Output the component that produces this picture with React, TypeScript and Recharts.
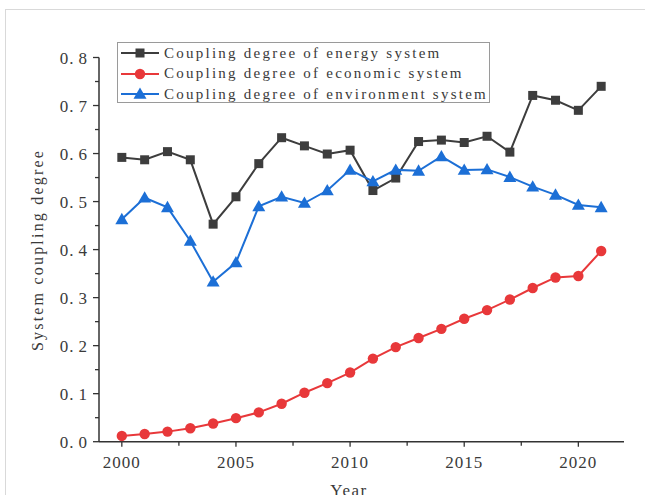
import { LineChart, Line, XAxis, YAxis } from "recharts";

const years = [
  2000, 2001, 2002, 2003, 2004, 2005, 2006, 2007, 2008, 2009, 2010, 2011,
  2012, 2013, 2014, 2015, 2016, 2017, 2018, 2019, 2020, 2021,
];
const energy = [
  0.592, 0.587, 0.604, 0.587, 0.453, 0.51, 0.579, 0.633, 0.616, 0.599, 0.607,
  0.523, 0.549, 0.625, 0.628, 0.623, 0.636, 0.603, 0.721, 0.711, 0.69, 0.74,
];
const economic = [
  0.012, 0.016, 0.021, 0.028, 0.038, 0.049, 0.061, 0.079, 0.102, 0.122, 0.144,
  0.173, 0.197, 0.216, 0.235, 0.256, 0.274, 0.296, 0.32, 0.342, 0.345, 0.397,
];
const environment = [
  0.463, 0.508, 0.488, 0.418, 0.333, 0.373, 0.49, 0.51, 0.497, 0.523, 0.566,
  0.542, 0.566, 0.564, 0.594, 0.566, 0.567, 0.551, 0.531, 0.514, 0.493, 0.488,
];
const yTicks = [
  0, 0.05, 0.1, 0.15, 0.2, 0.25, 0.3, 0.35, 0.4, 0.45, 0.5, 0.55, 0.6, 0.65,
  0.7, 0.75, 0.8,
];
const xTicks = [2000, 2002.5, 2005, 2007.5, 2010, 2012.5, 2015, 2017.5, 2020];
const seriesNames = [
  "Coupling degree of energy system",
  "Coupling degree of economic system",
  "Coupling degree of environment system",
];

const data = years.map((year, i) => ({
  year,
  energy: energy[i],
  economic: economic[i],
  environment: environment[i],
}));

const FONT = "'Liberation Serif', 'DejaVu Serif', serif";
const TEXT = "#3a3a3a";
const AXIS = "#333333";
const GRAY = "#3d3d3d";
const RED = "#e8383a";
const BLUE = "#1c6fd6";

type Shape = "square" | "circle" | "triangle";

function Marker({ cx, cy, shape, color }: { cx: number; cy: number; shape: Shape; color: string }) {
  if (shape === "square")
    return <rect x={cx - 4.5} y={cy - 4.5} width={9} height={9} fill={color} />;
  if (shape === "circle") return <circle cx={cx} cy={cy} r={5.2} fill={color} />;
  return (
    <polygon
      points={`${cx},${cy - 6.5} ${cx - 6.5},${cy + 4.8} ${cx + 6.5},${cy + 4.8}`}
      fill={color}
    />
  );
}

const makeDot = (shape: Shape, color: string) => (props: any) => {
  const { cx, cy, index } = props;
  if (cx == null || cy == null) return <g key={`${shape}-${index}`} />;
  return (
    <g key={`${shape}-${index}`}>
      <Marker cx={cx} cy={cy} shape={shape} color={color} />
    </g>
  );
};

// decimal labels are set with a wide gap after the point, as in the CJK-style font
function YTick(props: any) {
  const { x, y, payload } = props;
  const v = payload.value as number;
  const major = Math.round(v * 100) % 10 === 0;
  const [intPart, fracPart] = v.toFixed(1).split(".");
  return (
    <g>
      <line x1={x - (major ? 6 : 4)} x2={x} y1={y} y2={y} stroke={AXIS} strokeWidth={1.3} />
      {major && (
        <text
          x={x - 11}
          y={y}
          textAnchor="end"
          dominantBaseline="central"
          fontFamily={FONT}
          fontSize={17}
          letterSpacing={1}
          fill={TEXT}
        >
          <tspan>{intPart}.</tspan>
          <tspan dx={4}>{fracPart}</tspan>
        </text>
      )}
    </g>
  );
}

function XTick(props: any) {
  const { x, y, payload } = props;
  const v = payload.value as number;
  const major = v % 5 === 0;
  return (
    <g>
      <line x1={x} x2={x} y1={y} y2={y + (major ? 5 : 4)} stroke={AXIS} strokeWidth={1.3} />
      {major && (
        <text
          x={x}
          y={y + 21}
          textAnchor="middle"
          dominantBaseline="central"
          fontFamily={FONT}
          fontSize={17}
          letterSpacing={1}
          fill={TEXT}
        >
          {v}
        </text>
      )}
    </g>
  );
}

const legendItems: { name: string; shape: Shape; color: string }[] = [
  { name: seriesNames[0], shape: "square", color: GRAY },
  { name: seriesNames[1], shape: "circle", color: RED },
  { name: seriesNames[2], shape: "triangle", color: BLUE },
];

export default function App() {
  return (
    <div
      style={{
        position: "absolute",
        left: 0,
        top: 0,
        width: 645,
        height: 495,
        background: "#fff",
        overflow: "hidden",
      }}
    >
      <div
        style={{
          position: "absolute",
          left: 5,
          top: 9,
          width: 660,
          height: 500,
          borderTop: "1px solid #d9d9d9",
          borderLeft: "1px solid #d9d9d9",
        }}
      />
      <LineChart
        width={645}
        height={495}
        data={data}
        margin={{ top: 57.5, right: 21, bottom: 0, left: 0 }}
      >
        <XAxis
          dataKey="year"
          type="number"
          domain={[1999, 2022]}
          ticks={xTicks}
          interval={0}
          height={53.3}
          tickSize={0}
          tickMargin={0}
          tick={<XTick />}
          axisLine={{ stroke: AXIS, strokeWidth: 1.5 }}
          tickLine={false}
          label={{
            content: () => (
              <text
                x={349}
                y={490}
                textAnchor="middle"
                dominantBaseline="central"
                fontFamily={FONT}
                fontSize={17}
                letterSpacing={1.5}
                fill={TEXT}
              >
                Year
              </text>
            ),
          }}
        />
        <YAxis
          type="number"
          domain={[0, 0.8]}
          ticks={yTicks}
          interval={0}
          width={99}
          tickSize={0}
          tickMargin={0}
          tick={<YTick />}
          axisLine={{ stroke: AXIS, strokeWidth: 1.5 }}
          tickLine={false}
          label={{
            content: () => (
              <text
                x={37}
                y={250}
                transform="rotate(-90 37 250)"
                textAnchor="middle"
                dominantBaseline="central"
                fontFamily={FONT}
                fontSize={16}
                letterSpacing={2.2}
                fill={TEXT}
              >
                System coupling degree
              </text>
            ),
          }}
        />
        <Line
          dataKey="energy"
          name={seriesNames[0]}
          stroke={GRAY}
          strokeWidth={2}
          dot={makeDot("square", GRAY)}
          activeDot={false}
          isAnimationActive={false}
        />
        <Line
          dataKey="economic"
          name={seriesNames[1]}
          stroke={RED}
          strokeWidth={2}
          dot={makeDot("circle", RED)}
          activeDot={false}
          isAnimationActive={false}
        />
        <Line
          dataKey="environment"
          name={seriesNames[2]}
          stroke={BLUE}
          strokeWidth={2}
          dot={makeDot("triangle", BLUE)}
          activeDot={false}
          isAnimationActive={false}
        />
      </LineChart>
      <div
        style={{
          position: "absolute",
          left: 117,
          top: 42,
          width: 371,
          height: 59,
          border: "1px solid #9a9a9a",
          background: "#fff",
          fontFamily: FONT,
          fontSize: 15,
          letterSpacing: 2.25,
          color: TEXT,
        }}
      >
        {legendItems.map((item, i) => (
          <div
            key={item.name}
            style={{
              position: "absolute",
              left: 0,
              top: i * 20.5,
              height: 20.5,
              display: "flex",
              alignItems: "center",
              whiteSpace: "nowrap",
            }}
          >
            <svg width={44} height={20} style={{ display: "block" }}>
              <line x1={3} x2={41} y1={10} y2={10} stroke={item.color} strokeWidth={2} />
              <Marker cx={22} cy={10} shape={item.shape} color={item.color} />
            </svg>
            <span style={{ marginLeft: 2 }}>{item.name}</span>
          </div>
        ))}
      </div>
    </div>
  );
}
